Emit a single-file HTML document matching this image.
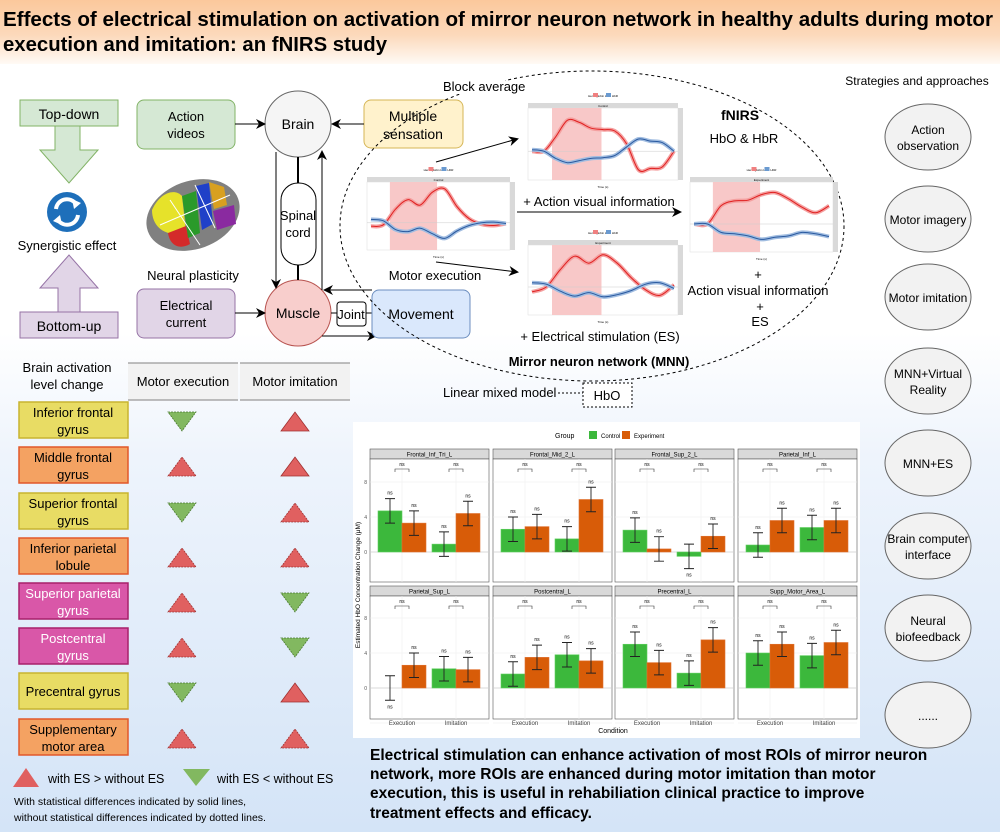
<!DOCTYPE html>
<html><head><meta charset="utf-8"><style>
html,body{margin:0;padding:0;width:1000px;height:832px;overflow:hidden;font-family:"Liberation Sans",sans-serif}
svg{display:block}
</style></head><body>
<svg id="s" width="1000" height="832" viewBox="0 0 1000 832" xmlns="http://www.w3.org/2000/svg" font-family="Liberation Sans, sans-serif">
<defs>
<linearGradient id="hd" x1="0" y1="0" x2="0" y2="1"><stop offset="0" stop-color="#fbc89c"/><stop offset="0.55" stop-color="#fcd9bb"/><stop offset="1" stop-color="#fffaf5"/></linearGradient>
<linearGradient id="bg" x1="0" y1="0" x2="0" y2="1"><stop offset="0" stop-color="#ffffff"/><stop offset="0.4" stop-color="#ffffff"/><stop offset="0.55" stop-color="#eef4fc"/><stop offset="1" stop-color="#d4e4f7"/></linearGradient>
<marker id="ar" markerWidth="10" markerHeight="10" refX="8" refY="5" orient="auto" markerUnits="userSpaceOnUse"><path d="M0,0 L10,5 L0,10 L3,5 z" fill="#000"/></marker>
</defs>
<rect width="1000" height="832" fill="url(#bg)"/>
<rect width="1000" height="64" fill="url(#hd)"/>
<text x="3" y="26" font-size="20" font-weight="bold" textLength="990" lengthAdjust="spacingAndGlyphs">Effects of electrical stimulation on activation of mirror neuron network in healthy adults during motor</text>
<text x="3" y="51" font-size="20" font-weight="bold" textLength="384" lengthAdjust="spacingAndGlyphs">execution and imitation: an fNIRS study</text>

<!-- left arrows -->
<rect x="20" y="100" width="98" height="26" fill="#d5e8d4" stroke="#82b366"/>
<text x="69" y="119" font-size="14" text-anchor="middle">Top-down</text>
<path d="M55,126 H80 V150 H98 L69,183 L40,150 H55 Z" fill="#d5e8d4" stroke="#82b366"/>
<circle cx="67" cy="212" r="20" fill="#1e6fba"/>
<path d="M56,209 A11,11 0 0 1 76,204 M78,215 A11,11 0 0 1 58,220" stroke="#fff" stroke-width="4" fill="none"/>
<path d="M72,199 L81,203 L74,209 Z M62,225 L53,221 L60,215 Z" fill="#fff"/>
<text x="67" y="250" font-size="13" text-anchor="middle">Synergistic effect</text>
<path d="M58,312 V288 H40 L69,255 L98,288 H80 V312 Z" fill="#e1d5e7" stroke="#9673a6"/>
<rect x="20" y="312" width="98" height="26" fill="#e1d5e7" stroke="#9673a6"/>
<text x="69" y="331" font-size="14" text-anchor="middle">Bottom-up</text>

<!-- flow -->
<rect x="137" y="100" width="98" height="49" rx="7" fill="#d5e8d4" stroke="#82b366"/>
<text x="186" y="121" font-size="13" text-anchor="middle">Action</text><text x="186" y="138" font-size="13" text-anchor="middle">videos</text>
<rect x="137" y="289" width="98" height="49" rx="7" fill="#e1d5e7" stroke="#9673a6"/>
<text x="186" y="310" font-size="13" text-anchor="middle">Electrical</text><text x="186" y="327" font-size="13" text-anchor="middle">current</text>
<rect x="364" y="100" width="99" height="48" rx="7" fill="#fff2cc" stroke="#d6b656"/>
<text x="413" y="121" font-size="14" text-anchor="middle">Multiple</text><text x="413" y="139" font-size="14" text-anchor="middle">sensation</text>
<circle cx="298" cy="124" r="33" fill="#f5f5f5" stroke="#666"/>
<text x="298" y="129" font-size="14" text-anchor="middle">Brain</text>
<circle cx="298" cy="313" r="33" fill="#f8cecc" stroke="#b85450"/>
<text x="298" y="318" font-size="14" text-anchor="middle">Muscle</text>
<rect x="281" y="183" width="35" height="82" rx="17" fill="#fff" stroke="#000"/>
<text x="298" y="220" font-size="13" text-anchor="middle">Spinal</text><text x="298" y="237" font-size="13" text-anchor="middle">cord</text>
<path d="M298,157 V183 M298,265 V280" stroke="#000" stroke-width="2"/>
<path d="M276,152 V287" stroke="#000" marker-end="url(#ar)"/>
<path d="M322,290 V152" stroke="#000" marker-end="url(#ar)"/>
<path d="M235,124 H264" stroke="#000" marker-end="url(#ar)"/>
<path d="M364,124 H333" stroke="#000" marker-end="url(#ar)"/>
<path d="M235,313 H264" stroke="#000" marker-end="url(#ar)"/>
<path d="M372,290 H325" stroke="#000" marker-end="url(#ar)"/>
<path d="M322,336 H375" stroke="#000" marker-end="url(#ar)"/>
<path d="M331,313 H372" stroke="#000"/>
<rect x="337" y="302" width="29" height="24" rx="3" fill="#fff" stroke="#000"/>
<text x="351" y="319" font-size="13" text-anchor="middle">Joint</text>
<rect x="372" y="290" width="98" height="48" rx="7" fill="#dae8fc" stroke="#6c8ebf"/>
<text x="421" y="319" font-size="14" text-anchor="middle">Movement</text>
<!-- brain -->
<g>
<ellipse cx="193" cy="215" rx="48" ry="34" fill="#808080" transform="rotate(-20 193 215)"/>
<path d="M152,210 C160,192 175,188 182,196 L186,232 C170,238 152,230 152,210Z" fill="#e6e22a"/>
<path d="M168,233 L186,226 L190,244 C180,250 170,246 168,233Z" fill="#d42a2a"/>
<path d="M182,196 L196,191 L200,233 L188,238Z" fill="#2a9a2a"/>
<path d="M196,186 L209,183 L213,224 L202,230Z" fill="#2040c8"/>
<path d="M209,182 L224,187 L227,205 L214,209Z" fill="#d8a020"/>
<path d="M213,211 L234,205 L236,224 L217,230Z" fill="#8a2aa0"/>
<path d="M160,225 L230,195 M170,200 L200,245 M195,185 L215,228" stroke="#fff" stroke-width="1"/>
</g>
<text x="193" y="280" font-size="13" text-anchor="middle">Neural plasticity</text>

<!-- ellipse -->
<ellipse cx="592" cy="226" rx="252" ry="155" fill="none" stroke="#000" stroke-dasharray="3,3"/>
<rect x="425" y="78" width="80" height="16" fill="#fff"/>
<text x="443" y="91" font-size="13">Block average</text>
<text x="740" y="120" font-size="14" font-weight="bold" text-anchor="middle">fNIRS</text>
<text x="744" y="143" font-size="13" text-anchor="middle">HbO &amp; HbR</text>
<g id="mini"></g>
<path d="M436,162 L517,139" stroke="#000" marker-end="url(#ar)"/>
<path d="M436,262 L517,272" stroke="#000" marker-end="url(#ar)"/>
<path d="M517,212 H680" stroke="#000" marker-end="url(#ar)"/>
<text x="599" y="206" font-size="13" text-anchor="middle">+ Action visual information</text>
<text x="435" y="280" font-size="13" text-anchor="middle">Motor execution</text>
<text x="600" y="341" font-size="13" text-anchor="middle">+ Electrical stimulation (ES)</text>
<text x="599" y="366" font-size="13" font-weight="bold" text-anchor="middle">Mirror neuron network (MNN)</text>
<text x="758" y="279" font-size="13" text-anchor="middle">+</text>
<text x="758" y="295" font-size="13" text-anchor="middle">Action visual information</text>
<text x="760" y="311" font-size="13" text-anchor="middle">+</text>
<text x="760" y="326" font-size="13" text-anchor="middle">ES</text>
<text x="443" y="397" font-size="13">Linear mixed model</text>
<path d="M558,393 H583" stroke="#000" stroke-dasharray="2,2"/>
<rect x="583" y="383" width="49" height="24" fill="#fff" stroke="#000" stroke-dasharray="2,2"/>
<text x="607" y="400" font-size="13" text-anchor="middle">HbO</text>

<!-- strategies -->
<text x="917" y="85" font-size="12" text-anchor="middle">Strategies and approaches</text>
<g id="ov"></g>

<!-- table -->
<text x="67" y="372" font-size="13" text-anchor="middle">Brain activation</text>
<text x="67" y="389" font-size="13" text-anchor="middle">level change</text>
<rect x="128" y="363" width="110" height="37" fill="#f2f2f2"/>
<rect x="240" y="363" width="110" height="37" fill="#f2f2f2"/>
<path d="M128,363 H238 M240,363 H350 M128,400 H238 M240,400 H350" stroke="#999" stroke-width="1.2"/>
<text x="183" y="386" font-size="13" text-anchor="middle">Motor execution</text>
<text x="295" y="386" font-size="13" text-anchor="middle">Motor imitation</text>
<g id="tb"></g>
<path d="M13,787 L26,768 L39,787Z" fill="#e06060"/>
<text x="48" y="783" font-size="12.5">with ES &gt; without ES</text>
<path d="M183,769 L210,769 L196,786Z" fill="#82b860"/>
<text x="217" y="783" font-size="12.5">with ES &lt; without ES</text>
<text x="14" y="805" font-size="10.5">With statistical differences indicated by solid lines,</text>
<text x="14" y="821" font-size="10.5">without statistical differences indicated by dotted lines.</text>

<!-- bar chart -->
<rect x="353" y="422" width="507" height="316" fill="#fff"/>
<g id="bc"></g>

<g font-size="15.5" font-weight="bold">
<text x="370" y="760">Electrical stimulation can enhance activation of most ROIs of mirror neuron</text>
<text x="370" y="779">network, more ROIs are enhanced during motor imitation than motor</text>
<text x="370" y="798">execution, this is useful in rehabiliation clinical practice to improve</text>
<text x="370" y="818">treatment effects and efficacy.</text>
</g>
</svg>
<script>
const NS="http://www.w3.org/2000/svg";
function el(p,t,a,txt){const e=document.createElementNS(NS,t);for(const k in a)e.setAttribute(k,a[k]);if(txt!==undefined)e.textContent=txt;p.appendChild(e);return e;}
const ov=document.getElementById('ov');
const ovs=[[137,["Action","observation"]],[219,["Motor imagery"]],[297,["Motor imitation"]],[381,["MNN+Virtual","Reality"]],[463,["MNN+ES"]],[546,["Brain computer","interface"]],[628,["Neural","biofeedback"]],[715,["......"]]];
ovs.forEach(([cy,l])=>{el(ov,'ellipse',{cx:928,cy:cy,rx:43,ry:33,fill:'#f2f2f2',stroke:'#666'});
l.forEach((t,i)=>el(ov,'text',{x:928,y:cy+5+(i-(l.length-1)/2)*16,'font-size':12,'text-anchor':'middle'},t));});
const tb=document.getElementById('tb');
const Y='#e8dc64',YB='#c8b430',O='#f4a262',OB='#e2582a',M='#d957a8',MB='#a8206a';
const rows=[["Inferior frontal","gyrus",Y,YB,'#000',0,1,0,1],["Middle frontal","gyrus",O,OB,'#000',1,1,0,1],["Superior frontal","gyrus",Y,YB,'#000',0,1,0,0],["Inferior parietal","lobule",O,OB,'#000',1,1,0,0],["Superior parietal","gyrus",M,MB,'#fff',1,0,0,0],["Postcentral","gyrus",M,MB,'#fff',1,0,0,0],["Precentral gyrus","",Y,YB,'#000',0,1,0,1],["Supplementary","motor area",O,OB,'#000',1,1,0,0]];
const tops=[402,447,493,538,583,628,673,719];
rows.forEach((r,i)=>{const t=tops[i];el(tb,'rect',{x:19,y:t,width:109,height:36,fill:r[2],stroke:r[3],'stroke-width':1.5});
if(r[1]){el(tb,'text',{x:73,y:t+15,'font-size':13,'text-anchor':'middle',fill:r[4]},r[0]);el(tb,'text',{x:73,y:t+32,'font-size':13,'text-anchor':'middle',fill:r[4]},r[1]);}
else el(tb,'text',{x:73,y:t+23,'font-size':13,'text-anchor':'middle',fill:r[4]},r[0]);
const cyc=t+20;
[[182,r[5],r[7]],[295,r[6],r[8]]].forEach(([cx,up,solid])=>{
 const d=up?`M${cx-14},${cyc+9} L${cx},${cyc-10} L${cx+14},${cyc+9}Z`:`M${cx-14},${cyc-10} L${cx+14},${cyc-10} L${cx},${cyc+9}Z`;
 el(tb,'path',{d:d,fill:up?'#e06060':'#82b860',stroke:up?'#a03030':'#4a7a30','stroke-width':0.8,'stroke-dasharray':solid?'':'2,1'});});});
const bc=document.getElementById('bc');
el(bc,'text',{x:555,y:438,'font-size':7},'Group');
el(bc,'rect',{x:589,y:431,width:8,height:8,fill:'#3cb83c'});el(bc,'text',{x:601,y:438,'font-size':6},'Control');
el(bc,'rect',{x:622,y:431,width:8,height:8,fill:'#d85c08'});el(bc,'text',{x:634,y:438,'font-size':6},'Experiment');
const names=["Frontal_Inf_Tri_L","Frontal_Mid_2_L","Frontal_Sup_2_L","Parietal_Inf_L","Parietal_Sup_L","Postcentral_L","Precentral_L","Supp_Motor_Area_L"];
const vals=[[4.7,3.3,0.9,4.4],[2.6,2.9,1.5,6.0],[2.5,0.35,-0.5,1.8],[0.8,3.6,2.8,3.6],[0,2.6,2.2,2.1],[1.6,3.5,3.8,3.1],[5.0,2.9,1.7,5.5],[4.0,5.0,3.7,5.2]];
const cols=[370,493,615,738];
names.forEach((n,i)=>{const px=cols[i%4],row=Math.floor(i/4),sy=row?586:449,py=sy+10,ph=123,y0=row?688:552,w=119;
 el(bc,'rect',{x:px,y:sy,width:w,height:10,fill:'#d9d9d9',stroke:'#555','stroke-width':0.6});
 el(bc,'text',{x:px+w/2,y:sy+7.5,'font-size':6,'text-anchor':'middle'},n);
 el(bc,'rect',{x:px,y:py,width:w,height:ph,fill:'#fff',stroke:'#555','stroke-width':0.6});
 [-4,4,8].forEach(v=>el(bc,'line',{x1:px,x2:px+w,y1:y0-v*8.75,y2:y0-v*8.75,stroke:'#eee','stroke-width':0.6}));
 el(bc,'line',{x1:px,x2:px+w,y1:y0,y2:y0,stroke:'#ccc','stroke-width':0.8});
 [32,86].forEach(o=>el(bc,'line',{x1:px+o,x2:px+o,y1:py,y2:py+ph,stroke:'#eee','stroke-width':0.6}));
 if(i%4==0){[0,4,8].forEach(v=>el(bc,'text',{x:px-3,y:y0-v*8.75+2,'font-size':5,'text-anchor':'end',fill:'#555'},v));}
 const offs=[8,32,62,86];
 vals[i].forEach((v,j)=>{const x=px+offs[j];const c=j%2?'#d85c08':'#3cb83c';
  if(v!==0)el(bc,'rect',{x:x,y:Math.min(y0,y0-v*8.75),width:24,height:Math.abs(v)*8.75,fill:c,stroke:j%2?'#e07030':'#60d060','stroke-width':0.6});
  const e=1.4*8.75,cy=y0-v*8.75,xc=x+12;
  el(bc,'path',{d:`M${xc},${cy-e} V${cy+e} M${xc-5},${cy-e} H${xc+5} M${xc-5},${cy+e} H${xc+5}`,stroke:'#222','stroke-width':0.9,fill:'none'});
  el(bc,'text',{x:xc,y:v<0||(i==4&&j==0)?cy+e+8:cy-e-4,'font-size':5,'text-anchor':'middle'},'ns');});
 [32,86].forEach(o=>{el(bc,'path',{d:`M${px+o-7},${py+13} V${py+10} H${px+o+7} V${py+13}`,stroke:'#333','stroke-width':0.6,fill:'none'});
  el(bc,'text',{x:px+o,y:py+7,'font-size':5,'text-anchor':'middle'},'ns');});
 if(row==1){el(bc,'text',{x:px+32,y:725,'font-size':6,'text-anchor':'middle',fill:'#444'},'Execution');el(bc,'text',{x:px+86,y:725,'font-size':6,'text-anchor':'middle',fill:'#444'},'Imitation');}
});
el(bc,'text',{x:613,y:733,'font-size':7,'text-anchor':'middle'},'Condition');
el(bc,'text',{x:0,y:0,'font-size':6.5,'text-anchor':'middle',transform:'translate(360,585) rotate(-90)'},'Estimated HbO Concentration Change (μM)');
const mini=document.getElementById('mini');
function smooth(pts){let d='M'+pts[0][0]+','+pts[0][1];
 for(let i=0;i<pts.length-1;i++){const p0=pts[i-1]||pts[i],p1=pts[i],p2=pts[i+1],p3=pts[i+2]||p2;
  d+=` C${(p1[0]+(p2[0]-p0[0])/6).toFixed(1)},${(p1[1]+(p2[1]-p0[1])/6).toFixed(1)} ${(p2[0]-(p3[0]-p1[0])/6).toFixed(1)},${(p2[1]-(p3[1]-p1[1])/6).toFixed(1)} ${p2[0].toFixed(1)},${p2[1].toFixed(1)}`;}
 return d;}
function mc(x,y,w,h,title,red,blue){
 el(mini,'text',{x:x+w/2,y:y-6,'font-size':3,'text-anchor':'middle'},'Hemoglobin  HbO  HbR');
 el(mini,'rect',{x:x+w/2-10,y:y-10,width:5,height:4,fill:'#f08080'});el(mini,'rect',{x:x+w/2+3,y:y-10,width:5,height:4,fill:'#6a9ad0'});
 el(mini,'rect',{x:x,y:y,width:w,height:5,fill:'#d9d9d9'});
 el(mini,'text',{x:x+w/2,y:y+4,'font-size':3,'text-anchor':'middle'},title);
 el(mini,'rect',{x:x,y:y+5,width:w,height:h-5,fill:'#fff',stroke:'#ddd','stroke-width':0.5});
 el(mini,'rect',{x:x+w,y:y+5,width:5,height:h-5,fill:'#d9d9d9'});
 el(mini,'rect',{x:x+w*0.16,y:y+5,width:w*0.33,height:h-5,fill:'#f8c8c8'});
 const mid=y+5+(h-5)*0.6;el(mini,'line',{x1:x,x2:x+w,y1:mid,y2:mid,stroke:'#ccc','stroke-width':0.5});
 const pth=(arr)=>smooth(arr.map((v,k)=>[x+4+k*(w-8)/(arr.length-1),mid-v*(h-5)*0.1]));
 el(mini,'path',{d:pth(red),stroke:'#f4a0a0','stroke-width':4,fill:'none'});el(mini,'path',{d:pth(red),stroke:'#e02020','stroke-width':1,fill:'none'});
 el(mini,'path',{d:pth(blue),stroke:'#a0bce0','stroke-width':4,fill:'none'});el(mini,'path',{d:pth(blue),stroke:'#2a5aa0','stroke-width':1,fill:'none'});
 el(mini,'text',{x:x+w/2,y:y+h+8,'font-size':3,'text-anchor':'middle'},'Time (s)');
}
mc(528,103,150,77,'Control',[0,0,2,4.3,4,3.2,3,2.8,1,-2.6,-2.4,-2.2,0],[0.2,0,-1,-1.6,-1.3,-1,-0.9,-0.6,0.6,1.7,1.4,1.2,0]);
mc(367,177,143,73,'Control',[-0.5,-0.3,2,3.4,2.6,4.5,5,2.4,0.6,-0.2,-0.4,-0.1],[0.5,0.3,-1,-1.3,-0.8,-1.6,-2.3,-1.2,-0.4,0,0.1,-0.1]);
mc(528,240,150,75,'Experiment',[-0.7,0,2.5,4.4,3.4,4.6,3.4,1.3,-0.4,-1.2,0.3],[0.6,0.4,-0.6,-1.3,-0.8,-1.4,-1.1,-0.5,0.4,0.6,-0.2]);
mc(690,177,143,75,'Experiment',[0,0,2.6,3.3,3.4,4.2,4.5,3.6,2.4,1.6,2.6],[0,0,-1.2,-1.4,-1.7,-2.2,-1.9,-1.7,-1.2,-1.4,-1.8]);
</script>
</body></html>
